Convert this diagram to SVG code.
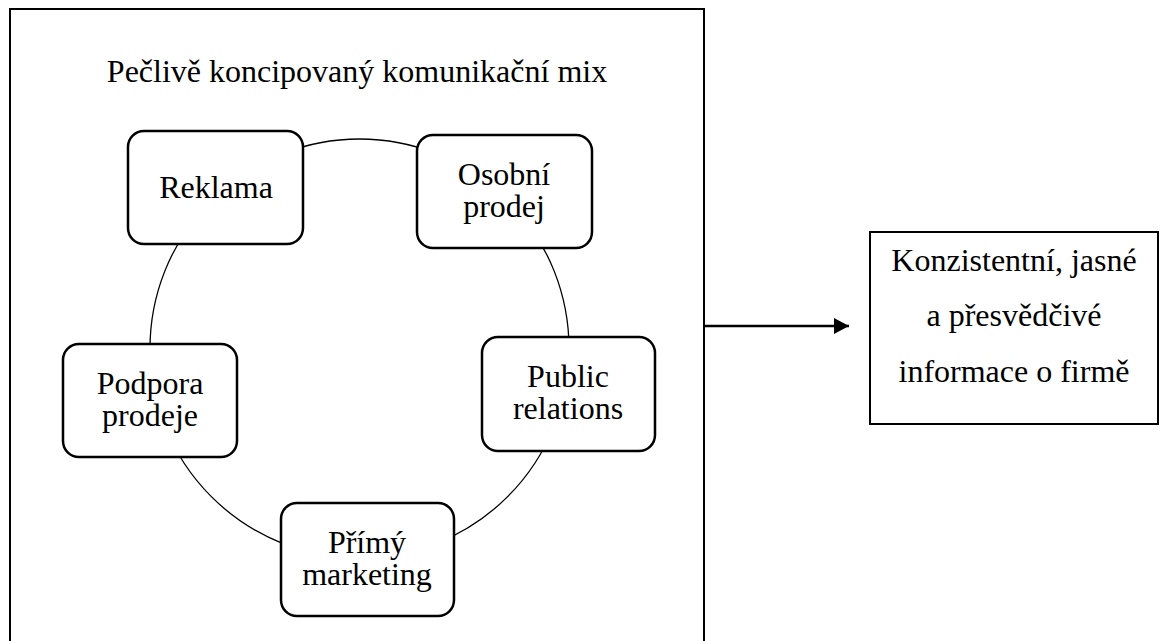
<svg xmlns="http://www.w3.org/2000/svg" width="1160" height="641" viewBox="0 0 1160 641">
<style>
text{font-family:'Liberation Serif','DejaVu Serif',serif;font-size:32px;fill:#000;text-anchor:middle}
.node{fill:#fff;stroke:#000;stroke-width:2.5}
.frame{fill:none;stroke:#000;stroke-width:2}
.conn{fill:none;stroke:#000;stroke-width:1.3}
.arrow{fill:none;stroke:#000;stroke-width:2.5}
</style>
<defs>
<marker id="ah" markerWidth="16" markerHeight="16" refX="15" refY="8" orient="auto" markerUnits="userSpaceOnUse">
<path d="M0,0 L15,8 L0,16 Z" fill="#000"/>
</marker>
</defs>
<rect width="1160" height="641" fill="#fff"/>
<g id="frame">
<rect class="frame" x="10" y="9" width="694" height="650"/>
<text x="357" y="82" font-family="Liberation Serif, serif">Pečlivě koncipovaný komunikační mix</text>
</g>
<g id="connectors">
<circle class="conn" cx="359.5" cy="348.5" r="209.5"/>
<line class="arrow" x1="704" y1="326" x2="849" y2="326" marker-end="url(#ah)"/>
</g>
<g id="reklama">
<rect class="node" x="128" y="131" width="175" height="113" rx="16"/>
<text x="216" y="198" font-family="Liberation Serif, serif">Reklama</text>
</g>
<g id="osobni-prodej">
<rect class="node" x="417" y="135" width="175" height="113" rx="16"/>
<text font-family="Liberation Serif, serif"><tspan x="504" y="185">Osobní</tspan><tspan x="504" y="217">prodej</tspan></text>
</g>
<g id="public-relations">
<rect class="node" x="482" y="337" width="173" height="114" rx="16"/>
<text font-family="Liberation Serif, serif"><tspan x="568" y="387">Public</tspan><tspan x="568" y="419">relations</tspan></text>
</g>
<g id="primy-marketing">
<rect class="node" x="281" y="503" width="173" height="113" rx="16"/>
<text font-family="Liberation Serif, serif"><tspan x="367" y="553">Přímý</tspan><tspan x="367" y="585">marketing</tspan></text>
</g>
<g id="podpora-prodeje">
<rect class="node" x="63" y="344" width="174" height="113" rx="16"/>
<text font-family="Liberation Serif, serif"><tspan x="150" y="394">Podpora</tspan><tspan x="150" y="426">prodeje</tspan></text>
</g>
<g id="vysledek">
<rect class="frame" x="870" y="232" width="288" height="192"/>
<text font-family="Liberation Serif, serif"><tspan x="1014" y="271">Konzistentní, jasné</tspan><tspan x="1014" y="326">a přesvědčivé</tspan><tspan x="1014" y="382">informace o firmě</tspan></text>
</g>
</svg>
